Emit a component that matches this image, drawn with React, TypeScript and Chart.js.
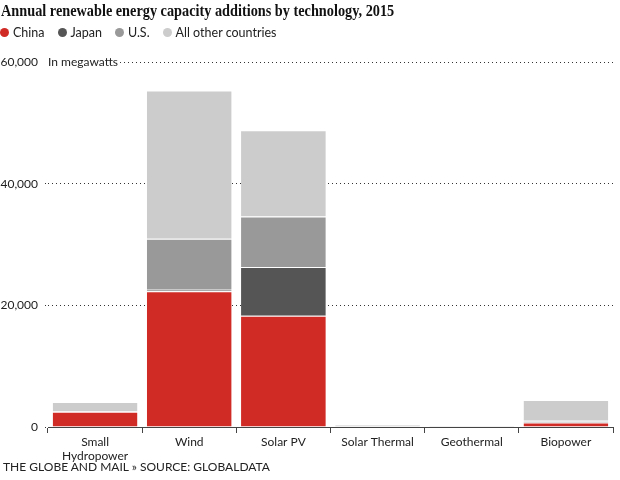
import React, { useEffect, useRef } from "react";
import { Chart, registerables } from "chart.js";

Chart.register(...registerables);

const categories: (string | string[])[] = [
  ["Small", "Hydropower"],
  "Wind",
  "Solar PV",
  "Solar Thermal",
  "Geothermal",
  "Biopower",
];
const china = [2500, 22300, 18300, 0, 0, 750];
const japan = [50, 250, 8000, 0, 0, 150];
const us = [100, 8400, 8300, 0, 0, 250];
const other = [1450, 24350, 14200, 400, 250, 3300];
const seriesNames = ["China", "Japan", "U.S.", "All other countries"];
const seriesColors = ["#d12b26", "#555555", "#999999", "#cccccc"];
const yTicks = [0, 20000, 40000, 60000];

const title = "Annual renewable energy capacity additions by technology, 2015";
const unitLabel = "In megawatts";
const footer = "THE GLOBE AND MAIL » SOURCE: GLOBALDATA";

const SANS = "Lato, 'Open Sans', sans-serif";

const unitPlugin = {
  id: "unitLabel",
  afterDraw(chart: any) {
    const { ctx, chartArea, scales } = chart;
    const y = scales.y.getPixelForValue(yTicks[yTicks.length - 1]);
    ctx.save();
    ctx.font = `12px ${SANS}`;
    const w = ctx.measureText(unitLabel).width;
    ctx.fillStyle = "#fff";
    ctx.fillRect(chartArea.left - 4, y - 8, w + 6, 16);
    ctx.fillStyle = "#222";
    ctx.textBaseline = "middle";
    ctx.textAlign = "left";
    ctx.fillText(unitLabel, chartArea.left, y);
    ctx.restore();
  },
};

function BarChart() {
  const ref = useRef<HTMLCanvasElement>(null);
  useEffect(() => {
    document.body.style.margin = "0";
    const data = [china, japan, us, other];
    const chart = new Chart(ref.current!, {
      type: "bar",
      data: {
        labels: categories,
        datasets: data.map((d, i) => ({
          label: seriesNames[i],
          data: d,
          backgroundColor: seriesColors[i],
          borderColor: "#ffffff",
          borderWidth: { top: 1, left: 0, right: 0, bottom: 0 },
          borderSkipped: "start",
          barPercentage: 0.9,
          categoryPercentage: 1,
        })),
      },
      options: {
        responsive: false,
        animation: false,
        devicePixelRatio: 1,
        layout: { padding: { top: 62, right: 7, bottom: 0, left: 0 } },
        plugins: {
          legend: { display: false },
          tooltip: { enabled: false },
          title: { display: false },
        },
        scales: {
          x: {
            stacked: true,
            offset: true,
            grid: {
              display: true,
              offset: true,
              drawOnChartArea: false,
              drawTicks: true,
              tickLength: 6,
              color: "#444",
            },
            border: { display: true, color: "#444", width: 1 },
            ticks: {
              color: "#222",
              font: { family: SANS, size: 12 },
              padding: 2,
              maxRotation: 0,
              autoSkip: false,
            },
            afterFit: (s: any) => {
              s.height = 53;
            },
          },
          y: {
            stacked: true,
            min: 0,
            max: 60000,
            afterBuildTicks: (s: any) => {
              s.ticks = yTicks.map((v) => ({ value: v }));
            },
            grid: {
              color: "#333",
              lineWidth: 1,
              drawTicks: true,
              tickLength: 3,
              tickBorderDash: [1, 3],
            },
            border: { display: false, dash: [1, 3] },
            ticks: {
              color: "#222",
              font: { family: SANS, size: 12 },
              padding: 7,
              callback: (v: any) => Number(v).toLocaleString("en-US"),
            },
            afterFit: (s: any) => {
              s.width = 48;
            },
          },
        },
      },
      plugins: [unitPlugin],
    });
    return () => chart.destroy();
  }, []);
  return (
    <canvas
      ref={ref}
      width={620}
      height={480}
      style={{ position: "absolute", left: 0, top: 0, width: 620, height: 480 }}
    />
  );
}

export default function App() {
  return (
    <div style={{ position: "relative", width: 620, height: 480, overflow: "hidden", background: "#fff" }}>
      <BarChart />
      <div
        style={{
          position: "absolute",
          left: 1,
          top: 1,
          fontFamily: "'Liberation Serif', serif",
          fontWeight: "bold",
          fontSize: 17,
          color: "#111",
          whiteSpace: "nowrap",
          transform: "scaleX(0.84)",
          transformOrigin: "left top",
        }}
      >
        {title}
      </div>
      <div
        style={{
          position: "absolute",
          left: 0,
          top: 25,
          display: "flex",
          alignItems: "center",
          fontFamily: SANS,
          fontSize: 12.5,
          color: "#222",
          whiteSpace: "nowrap",
        }}
      >
        {seriesNames.map((n, i) => (
          <span key={n} style={{ display: "flex", alignItems: "center", marginRight: 13 }}>
            <span
              style={{
                display: "inline-block",
                width: 9,
                height: 9,
                borderRadius: 5,
                background: seriesColors[i],
                marginRight: 4,
              }}
            />
            {n}
          </span>
        ))}
      </div>
      <div
        style={{
          position: "absolute",
          left: 3,
          top: 459,
          fontFamily: SANS,
          fontSize: 12,
          color: "#222",
          whiteSpace: "nowrap",
        }}
      >
        {footer}
      </div>
    </div>
  );
}
